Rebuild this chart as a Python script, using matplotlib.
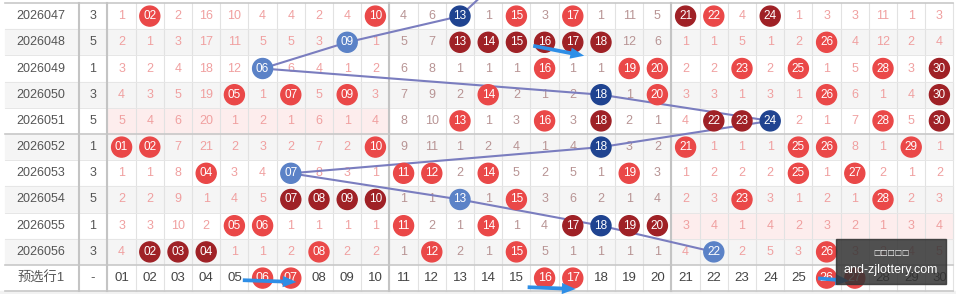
import matplotlib.pyplot as plt
from matplotlib.patches import Circle, Rectangle, FancyArrowPatch

# issue numbers and the small number in the 2nd column
issues = ['2026047', '2026048', '2026049', '2026050', '2026051',
          '2026052', '2026053', '2026054', '2026055', '2026056']
group = [3, 5, 1, 3, 5, 1, 3, 5, 1, 3]

# 30 cells per row: plain number = miss count, R = red ball, D = dark red ball,
# B = dark blue ball, L = light blue ball
rows = [
    "1 R02 2 16 10 4 4 2 4 R10 4 6 B13 1 R15 3 R17 1 11 5 D21 R22 4 D24 1 3 3 11 1 3",
    "2 1 3 17 11 5 5 3 L09 1 5 7 D13 D14 D15 D16 D17 D18 12 6 1 1 5 1 2 R26 4 12 2 4",
    "3 2 4 18 12 L06 6 4 1 2 6 8 1 1 1 R16 1 1 R19 R20 2 2 R23 2 R25 1 5 R28 3 D30",
    "4 3 5 19 R05 1 R07 5 R09 3 7 9 2 R14 2 1 2 B18 1 R20 3 3 1 3 1 R26 6 1 4 D30",
    "5 4 6 20 1 2 1 6 1 4 8 10 R13 1 3 R16 3 D18 2 1 4 D22 D23 B24 2 1 7 R28 5 D30",
    "R01 R02 7 21 2 3 2 7 2 R10 9 11 1 2 4 1 4 B18 3 2 R21 1 1 1 R25 R26 8 1 R29 1",
    "1 1 8 R04 3 4 L07 8 3 1 R11 R12 2 R14 5 2 5 1 R19 3 1 2 2 2 R25 1 R27 2 1 2",
    "2 2 9 1 4 5 D07 D08 D09 D10 1 1 L13 1 R15 3 6 2 1 4 2 3 R23 3 1 2 1 R28 2 3",
    "3 3 10 2 R05 R06 1 1 1 1 R11 2 1 R14 1 4 D17 B18 D19 D20 3 4 1 4 2 3 2 1 3 4",
    "4 D02 D03 D04 1 1 2 R08 2 2 1 R12 2 1 R15 5 1 1 1 1 4 L22 2 5 3 R26 3 2 4 5",
]
prev_blue_col = 14          # blue ball of the row above the visible part

footer_label = '预选行1'
footer_picks = [6, 7, 16, 17, 26, 27]

# highlighted (pink) cell blocks: (row, first col, last col)
pink_blocks = [(4, 1, 10), (8, 21, 30)]

# blue arrows: (row, col from, col to, dy from, dy to)
arrows = [(1, 15.5, 17.5, 3, 14), (10, 5.2, 7.3, 2, 4),
          (10, 15.3, 17.2, 9, 11), (10, 25.6, 26.9, 0, 3)]

# geometry
X0, CW = 107.5, 28.2
TOP, RH = 3.0, 26.2
def cx(c):
    return X0 + (c - 0.5) * CW
def cy(r):
    return TOP + (r + 0.5) * RH

ball_colors = {'R': '#ea4848', 'D': '#9f2126', 'B': '#1f4390', 'L': '#5b82c7'}
font = ['Liberation Sans', 'Noto Sans CJK SC', 'DejaVu Sans']
plt.rcParams['font.family'] = font

fig = plt.figure(figsize=(9.56, 2.94), dpi=100)
ax = fig.add_axes([0, 0, 1, 1])
ax.set_xlim(0, 956)
ax.set_ylim(294, 0)
ax.axis('off')

nrows = len(rows)
right = X0 + 30 * CW

# row backgrounds
for r in range(nrows + 1):
    bg = '#f5f5f5' if r % 2 == 1 else 'white'
    ax.add_patch(Rectangle((5, TOP + r * RH), right - 5, RH, color=bg, zorder=0))
for r, c1, c2 in pink_blocks:
    ax.add_patch(Rectangle((X0 + (c1 - 1) * CW, TOP + r * RH), (c2 - c1 + 1) * CW, RH,
                           color='#fdeded', zorder=0.5))
ax.add_patch(Rectangle((0, TOP + (nrows + 1) * RH), 956, 10, color='#f2f2f2', zorder=0))

# grid lines
for c in range(31):
    ax.plot([X0 + c * CW] * 2, [TOP, TOP + (nrows + 1) * RH], color='#e2e2e2', lw=0.8, zorder=1)
for x in [79, X0, X0 + 10 * CW, X0 + 20 * CW]:
    ax.plot([x, x], [TOP, TOP + (nrows + 1) * RH], color='#c4c4c4', lw=1.5, zorder=1.2)
for r in range(nrows + 2):
    y = TOP + r * RH
    strong = r in (0, 5, nrows, nrows + 1)
    ax.plot([5, right], [y, y], color='#c8c8c8' if strong else '#e6e6e6',
            lw=1.2 if strong else 0.7, zorder=1.1)

# connecting line through the blue balls
path = [(cx(prev_blue_col), cy(-1))]
for r, row in enumerate(rows):
    for c, tok in enumerate(row.split(), start=1):
        if tok[0] in 'BL':
            path.append((cx(c), cy(r)))
ax.plot([p[0] for p in path], [p[1] for p in path], color='#7a7dbf', lw=1.5, zorder=3)

# cells
for r, row in enumerate(rows):
    ax.text(41, cy(r), issues[r], ha='center', va='center', fontsize=9, color='#555555', zorder=2)
    ax.text(93, cy(r), str(group[r]), ha='center', va='center', fontsize=9, color='#555555', zorder=2)
    for c, tok in enumerate(row.split(), start=1):
        if tok[0] in ball_colors:
            ax.add_patch(Circle((cx(c), cy(r)), 10, color=ball_colors[tok[0]], zorder=4))
            ax.text(cx(c), cy(r), tok[1:], ha='center', va='center', fontsize=8.5,
                    color='white', zorder=5)
        else:
            col = '#b89494' if 11 <= c <= 20 else '#f0a0a0'
            ax.text(cx(c), cy(r), tok, ha='center', va='center', fontsize=9, color=col, zorder=2)

# footer row
fy = cy(nrows)
ax.text(41, fy, footer_label, ha='center', va='center', fontsize=9.5, color='#555555', zorder=2)
ax.text(93, fy, '-', ha='center', va='center', fontsize=9.5, color='#555555', zorder=2)
for c in range(1, 31):
    if c in footer_picks:
        ax.add_patch(Circle((cx(c), fy), 10, color='#ea4848', zorder=4))
        ax.text(cx(c), fy, '%02d' % c, ha='center', va='center', fontsize=9, color='white', zorder=5)
    else:
        ax.text(cx(c), fy, '%02d' % c, ha='center', va='center', fontsize=9.5, color='#444444', zorder=2)

# blue arrows
for r, c1, c2, d1, d2 in arrows:
    ax.add_patch(FancyArrowPatch((cx(c1), cy(r) + d1), (cx(c2), cy(r) + d2),
                                 arrowstyle='simple,head_width=0.9,head_length=1.1,tail_width=0.3',
                                 mutation_scale=9, color='#2e8ee6', lw=0, zorder=6))

# watermark box
ax.add_patch(Rectangle((836, 239), 110, 45, color='#333333', alpha=0.85, zorder=7))
ax.text(891, 252, '□□□□□', ha='center', va='center', fontsize=5.5, color='white',
        family='DejaVu Sans', zorder=8)
ax.text(891, 270, 'and-zjlottery.com', ha='center', va='center', fontsize=9,
        color='white', zorder=8)

fig.savefig('out.png', dpi=100)
